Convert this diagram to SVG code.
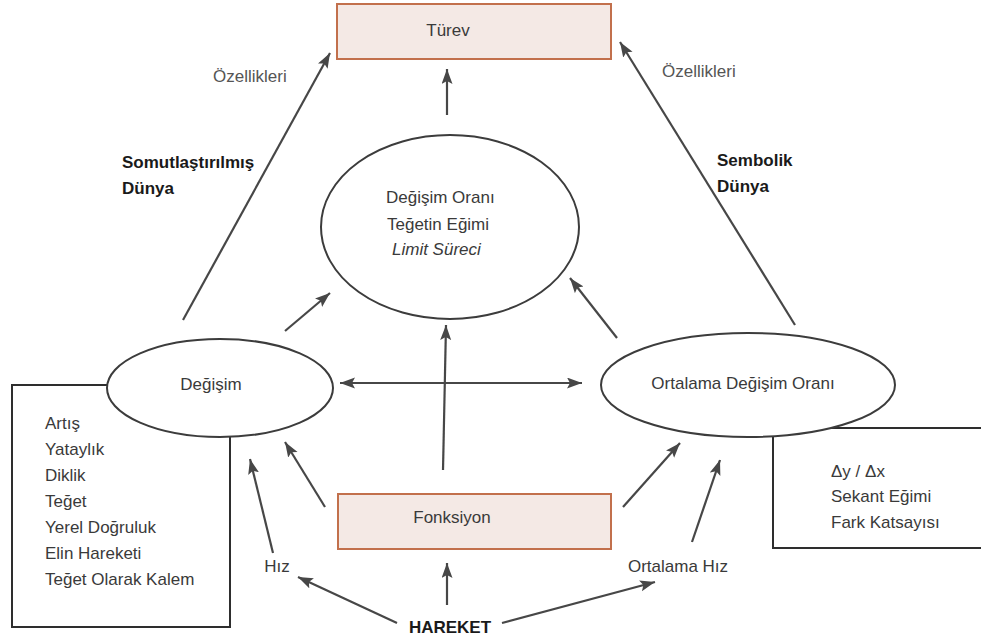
<svg xmlns="http://www.w3.org/2000/svg" width="981" height="640" viewBox="0 0 981 640">
  <style>
    .t { font-family: "Liberation Sans", Arial, sans-serif; font-size: 17px; fill: #3a3a3a; }
    .b { font-family: "Liberation Sans", Arial, sans-serif; font-size: 17px; font-weight: bold; fill: #1a1a1a; }
    .lbl { font-family: "Liberation Sans", Arial, sans-serif; font-size: 17px; fill: #555; }
    .box { fill: #f4e9e5; stroke: #c2704c; stroke-width: 2; }
    .ell { fill: #ffffff; stroke: #3c3c3c; stroke-width: 2; }
    .frame { fill: none; stroke: #2e2e2e; stroke-width: 2; }
    .arr { fill: none; stroke: #474747; stroke-width: 2.2; marker-end: url(#head); }
    .dbl { fill: none; stroke: #474747; stroke-width: 2.2; marker-end: url(#head); marker-start: url(#head); }
  </style>
  <defs>
    <marker id="head" markerUnits="userSpaceOnUse" markerWidth="16" markerHeight="12" refX="15" refY="5.5" orient="auto-start-reverse">
      <path d="M0,0 L15,5.5 L0,11 L3,5.5 z" fill="#474747"/>
    </marker>
  </defs>
  <rect width="981" height="640" fill="#ffffff"/>

  <!-- side frames behind the ellipses -->
  <g id="degisim-list">
    <rect class="frame" x="12" y="385" width="218" height="242"/>
    <text class="t" x="45" y="429">Artış</text>
    <text class="t" x="45" y="455">Yataylık</text>
    <text class="t" x="45" y="481">Diklik</text>
    <text class="t" x="45" y="507">Teğet</text>
    <text class="t" x="45" y="533">Yerel Doğruluk</text>
    <text class="t" x="45" y="559">Elin Hareketi</text>
    <text class="t" x="45" y="585">Teğet Olarak Kalem</text>
  </g>
  <g id="ortalama-list">
    <rect class="frame" x="773" y="428" width="230" height="120"/>
    <text class="t" x="831" y="477">Δy / Δx</text>
    <text class="t" x="831" y="502">Sekant Eğimi</text>
    <text class="t" x="831" y="528">Fark Katsayısı</text>
  </g>

  <!-- connectors -->
  <g id="connectors">
    <line class="arr" x1="183" y1="320" x2="330" y2="53"/>
    <line class="arr" x1="795" y1="325" x2="620" y2="42"/>
    <line class="arr" x1="447" y1="115" x2="447" y2="69"/>
    <line class="arr" x1="285" y1="331" x2="330" y2="293"/>
    <line class="arr" x1="617" y1="338" x2="570" y2="278"/>
    <line class="arr" x1="443" y1="470" x2="446" y2="325"/>
    <line class="dbl" x1="340" y1="383" x2="582" y2="383"/>
    <line class="arr" x1="325" y1="507" x2="285" y2="442"/>
    <line class="arr" x1="273" y1="553" x2="250" y2="459"/>
    <line class="arr" x1="623" y1="507" x2="680" y2="443"/>
    <line class="arr" x1="692" y1="542" x2="720" y2="460"/>
    <line class="arr" x1="397" y1="623" x2="298" y2="577"/>
    <line class="arr" x1="447" y1="605" x2="447" y2="563"/>
    <line class="arr" x1="502" y1="623" x2="655" y2="582"/>
  </g>

  <g id="turev">
    <rect class="box" x="337" y="4" width="274" height="55"/>
    <text class="t" x="448" y="36" text-anchor="middle">Türev</text>
  </g>

  <g id="degisim-orani">
    <ellipse class="ell" cx="450" cy="227" rx="129" ry="92"/>
    <text class="t" x="386" y="203">Değişim Oranı</text>
    <text class="t" x="387" y="230">Teğetin Eğimi</text>
    <text class="t" x="392" y="255" font-style="italic">Limit Süreci</text>
  </g>

  <g id="degisim">
    <ellipse class="ell" cx="220" cy="388" rx="113" ry="49"/>
    <text class="t" x="211" y="390" text-anchor="middle">Değişim</text>
  </g>

  <g id="ortalama-degisim-orani">
    <ellipse class="ell" cx="748" cy="385" rx="147" ry="52"/>
    <text class="t" x="743" y="389" text-anchor="middle">Ortalama Değişim Oranı</text>
  </g>

  <g id="fonksiyon">
    <rect class="box" x="338" y="494" width="273" height="55"/>
    <text class="t" x="452" y="523" text-anchor="middle">Fonksiyon</text>
  </g>

  <g id="hareket">
    <text class="b" x="450" y="633" text-anchor="middle">HAREKET</text>
  </g>
  <g id="hiz">
    <text class="t" x="277" y="572" text-anchor="middle">Hız</text>
  </g>
  <g id="ortalama-hiz">
    <text class="t" x="678" y="572" text-anchor="middle">Ortalama Hız</text>
  </g>

  <!-- edge labels -->
  <g id="labels">
    <text class="lbl" x="213" y="82">Özellikleri</text>
    <text class="b" x="122" y="168">Somutlaştırılmış</text>
    <text class="b" x="122" y="194">Dünya</text>
    <text class="lbl" x="662" y="77">Özellikleri</text>
    <text class="b" x="717" y="166">Sembolik</text>
    <text class="b" x="717" y="192">Dünya</text>
  </g>
</svg>
